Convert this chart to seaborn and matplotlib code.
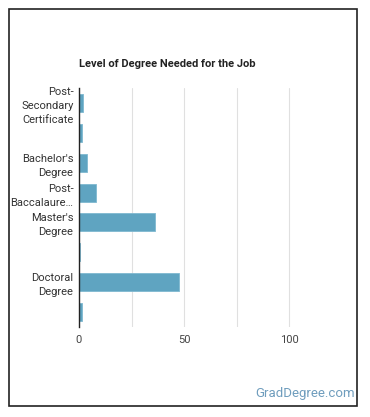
import matplotlib
matplotlib.use("Agg")
import matplotlib.pyplot as plt
import matplotlib.patches as patches
import seaborn as sns
import pandas as pd

categories = ["Post-Secondary Certificate", "Associate's Degree", "Bachelor's Degree",
              "Post-Baccalaureate Certificate", "Master's Degree", "Post-Master's Certificate",
              "Doctoral Degree", "Post-Doctoral Training"]
tick_labels = ["Post-\nSecondary\nCertificate", "", "Bachelor's\nDegree", "Post-\nBaccalaure\u2026",
               "Master's\nDegree", "", "Doctoral\nDegree", ""]
values = [2.0, 1.2, 4.0, 8.0, 36.3, 0.5, 47.8, 1.2]

df = pd.DataFrame({"cat": categories, "val": values})

sns.set_theme(style="white")
plt.rcParams['font.family'] = ['Roboto', 'DejaVu Sans']

W, H = 370, 417
fig = plt.figure(figsize=(W/100, H/100), dpi=100)
ax = fig.add_axes([79/W, 1-327/H, (341.5-79)/W, (327-88)/H])

sns.barplot(data=df, x="val", y="cat", orient="h", color="#5fa4c1", width=0.6,
            edgecolor="#7fb8d0", linewidth=0.6, ax=ax, saturation=1)

ax.set_xlim(0, 125)
ax.set_xticks([0, 25, 50, 75, 100])
ax.set_xticklabels(["0", "", "50", "", "100"], fontsize=8, color="#444444")
ax.set_yticks(range(len(categories)))
ax.set_yticklabels(tick_labels, fontsize=8, color="#333333", linespacing=1.5)
ax.tick_params(axis="both", length=0, pad=4)
ax.tick_params(axis="x", pad=6)
ax.grid(axis="x", color="#e0e0e0", linewidth=0.8)
ax.set_axisbelow(True)
for s in ["top", "right", "bottom"]:
    ax.spines[s].set_visible(False)
ax.spines["left"].set_color("#222222")
ax.spines["left"].set_linewidth(1.0)
ax.set_xlabel("")
ax.set_ylabel("")

ax.set_title("Level of Degree Needed for the Job", loc="left", fontsize=8,
             fontweight="bold", color="#222222", pad=15)

fig.patches.append(patches.Rectangle((8.5/W, 1-406/H), (357-8.5)/W, (406-8.5)/H,
                                     transform=fig.transFigure, fill=False,
                                     edgecolor="#222222", linewidth=1.2))
fig.text(355/W, 1-394/H, "GradDegree.com", ha="right", va="center",
         fontsize=9.5, color="#6f9dbd")

fig.savefig("out.png", dpi=100)
